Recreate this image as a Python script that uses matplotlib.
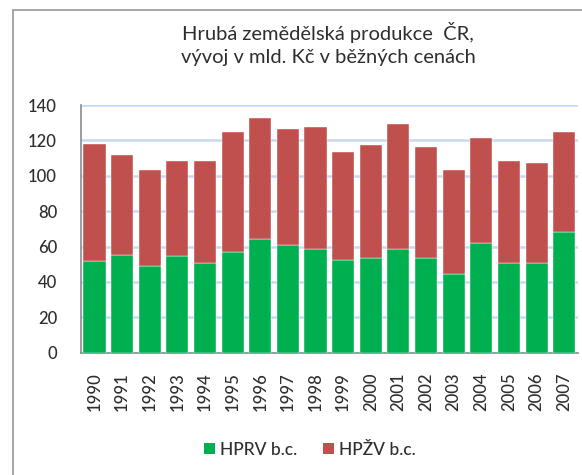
import matplotlib
matplotlib.use("Agg")
import matplotlib.pyplot as plt
from matplotlib.lines import Line2D
from matplotlib.patches import Patch

plt.rcParams['font.family'] = ['Lato', 'DejaVu Sans']

years = ["1990", "1991", "1992", "1993", "1994", "1995", "1996", "1997", "1998",
         "1999", "2000", "2001", "2002", "2003", "2004", "2005", "2006", "2007"]
hprv = [52, 55, 49, 54.5, 50.5, 57, 64.5, 61, 58.5, 52.5, 53.5, 58.5, 53.5, 44.5, 62, 50.5, 50.5, 68.5]
total = [118, 112, 103.5, 108.5, 108.5, 125, 132.5, 126.5, 127.5, 113.5, 117.5, 129, 116, 103, 121.5, 108.5, 107, 125]
hpzv = [t - g for t, g in zip(total, hprv)]

title = "Hrubá zemědělská produkce  ČR,\nvývoj v mld. Kč v běžných cenách"
labels = ["HPRV b.c.", "HPŽV b.c."]
colors = ["#00B050", "#C0504D"]
yticks = [0, 20, 40, 60, 80, 100, 120, 140]

W, H = 582, 475
fig = plt.figure(figsize=(W / 100, H / 100), dpi=100)
ax = fig.add_axes([80.7 / W, 1 - 352.7 / H, (578 - 80.7) / W, (352.7 - 105) / H])

x = range(len(years))
ax.bar(x, hprv, width=0.8, color=colors[0], edgecolor="white", linewidth=0.3, zorder=3)
ax.bar(x, hpzv, bottom=hprv, width=0.8, color=colors[1], edgecolor="white", linewidth=0.3, zorder=3)

ax.set_xlim(-0.5, len(years) - 0.5)
ax.set_ylim(0, 140)
ax.set_yticks(yticks)
ax.set_yticklabels([str(v) for v in yticks], fontsize=12, color="#2E2E2E", fontweight="medium")
ax.set_xticks(list(x))
ax.set_xticklabels(years, rotation=90, fontsize=12, color="#2E2E2E", fontweight="medium")
ax.tick_params(axis="y", length=0, pad=17)
ax.tick_params(axis="x", length=0, pad=14)
ax.grid(axis="y", color="#C6D9F1", linewidth=1.8, zorder=0)
ax.set_axisbelow(True)
for s in ["top", "right"]:
    ax.spines[s].set_visible(False)
for s in ["left", "bottom"]:
    ax.spines[s].set_color("#8C8C8C")
    ax.spines[s].set_linewidth(1.2)

fig.text(328 / W, 1 - 22 / H, title, ha="center", va="top", fontsize=14.5,
         color="#2E2E2E", linespacing=1.4)

handles = [Patch(facecolor=c, edgecolor="none") for c in colors]
fig.legend(handles, labels, loc="center", bbox_to_anchor=(310 / W, 1 - 450 / H),
           ncol=2, frameon=False, prop={"size": 12.5, "weight": "medium"},
           handlelength=0.6, handleheight=0.6,
           handletextpad=0.3, columnspacing=1.5, labelcolor="#2E2E2E")

# chart border (top and left visible)
fig.add_artist(Line2D([13 / W, 1], [1 - 10 / H, 1 - 10 / H], transform=fig.transFigure,
                      color="#A6A6A6", linewidth=1.4))
fig.add_artist(Line2D([13 / W, 13 / W], [1 - 10 / H, 0], transform=fig.transFigure,
                      color="#A6A6A6", linewidth=1.4))

fig.savefig("out.png", dpi=100)
